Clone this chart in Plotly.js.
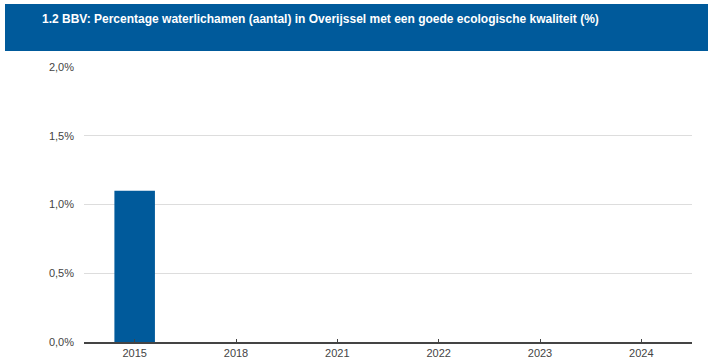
<!DOCTYPE html>
<html>
<head>
<meta charset="utf-8">
<script src="https://cdn.plot.ly/plotly-3.0.1.min.js"></script>
<style>
html,body{margin:0;padding:0;background:#fff;}
#chart{width:714px;height:364px;}
</style>
</head>
<body>
<div id="chart"></div>
<script>
const years = ['2015', '2018', '2021', '2022', '2023', '2024'];
const values = [1.1, null, null, null, null, null];
const yTicks = [0, 0.5, 1.0, 1.5, 2.0];
const yTickLabels = ['0,0%', '0,5%', '1,0%', '1,5%', '2,0%'];
const titleText = '1.2 BBV: Percentage waterlichamen (aantal) in Overijssel met een goede ecologische kwaliteit (%)';

const L = 84, R = 22, T = 67, B = 22, W = 714, H = 364;
const pw = W - L - R, ph = H - T - B;
const px = x => (x - L) / pw;
const py = y => (H - B - y) / ph;

const trace = {
  type: 'bar',
  x: years,
  y: values,
  width: 0.4,
  marker: {color: '#005a9b'},
  hoverinfo: 'x+y'
};

const layout = {
  width: W, height: H,
  margin: {l: L, r: R, t: T, b: B, pad: 0},
  paper_bgcolor: '#ffffff',
  plot_bgcolor: '#ffffff',
  separators: ',.',
  showlegend: false,
  font: {family: 'Liberation Sans, Arial, sans-serif', size: 11, color: '#444'},
  xaxis: {
    type: 'category',
    categoryorder: 'array',
    categoryarray: years,
    showgrid: false,
    showline: true,
    linecolor: '#444',
    linewidth: 1.5,
    ticks: 'inside',
    ticklen: 3,
    tickcolor: '#444',
    tickfont: {size: 11, color: '#444'},
    fixedrange: true
  },
  yaxis: {
    range: [0, 2.0],
    tickmode: 'array',
    tickvals: yTicks,
    ticktext: yTickLabels,
    showgrid: true,
    gridcolor: '#dddddd',
    gridwidth: 1,
    zeroline: false,
    showline: false,
    ticks: '',
    ticklabelstandoff: 9,
    tickfont: {size: 11, color: '#444'},
    fixedrange: true
  },
  shapes: [{
    type: 'rect', xref: 'paper', yref: 'paper',
    x0: px(5), x1: px(708), y0: py(51), y1: py(4),
    fillcolor: '#005a9b', line: {width: 0}, layer: 'below'
  }],
  annotations: [{
    xref: 'paper', yref: 'paper',
    x: px(40), y: py(18.5), xanchor: 'left', yanchor: 'middle',
    text: '<b>' + titleText + '</b>',
    showarrow: false,
    font: {family: 'Liberation Sans, Arial, sans-serif', size: 12, color: '#ffffff'}
  }]
};

Plotly.newPlot('chart', [trace], layout, {displayModeBar: false, staticPlot: true});
</script>
</body>
</html>
